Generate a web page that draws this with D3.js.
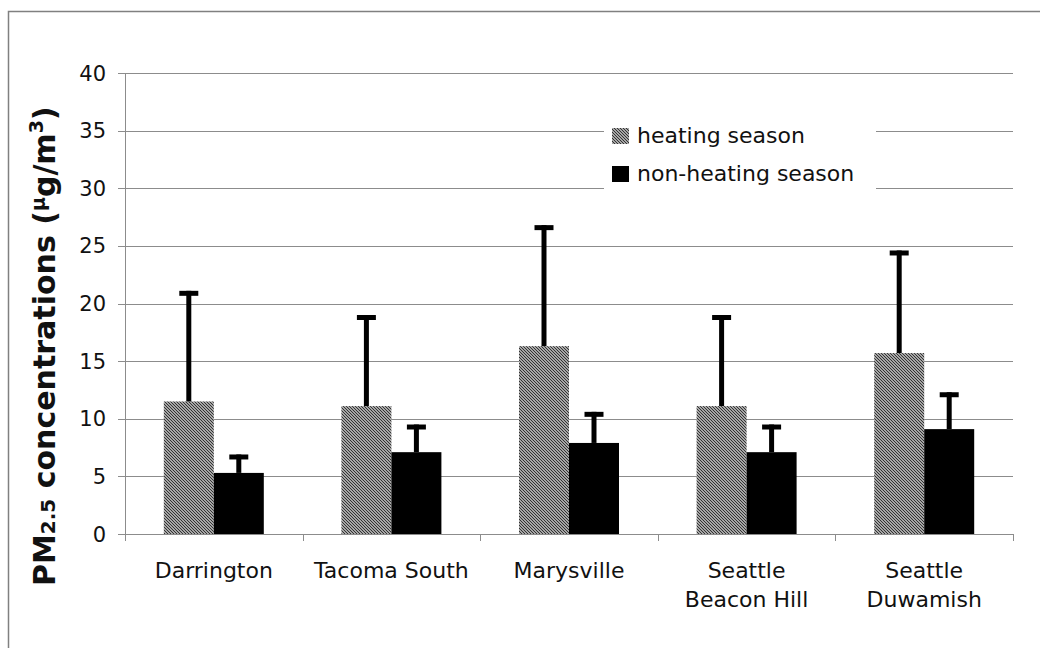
<!DOCTYPE html>
<html>
<head>
<meta charset="utf-8">
<script src="https://cdn.jsdelivr.net/npm/d3@7"></script>
<style>
  html, body { margin: 0; padding: 0; background: #fff; }
  svg { display: block; font-family: "DejaVu Sans", Verdana, sans-serif; }
</style>
</head>
<body>
<svg id="chart" width="1040" height="648"></svg>
<script>
// PM2.5 by monitoring site, heating vs non-heating season (mean with upward SD bar)
const sites = [["Darrington"], ["Tacoma South"], ["Marysville"], ["Seattle", "Beacon Hill"], ["Seattle", "Duwamish"]];
const seriesNames = ["heating season", "non-heating season"];
const heatingMean = [11.5, 11.1, 16.3, 11.1, 15.7];
const heatingUpper = [21.1, 19.0, 26.8, 19.0, 24.6];
const nonHeatingMean = [5.3, 7.1, 7.9, 7.1, 9.1];
const nonHeatingUpper = [6.9, 9.5, 10.6, 9.5, 12.3];
const yTicks = [0, 5, 10, 15, 20, 25, 30, 35, 40];

const svg = d3.select("#chart");
const margin = { left: 125, right: 1013, top: 73, bottom: 534 };
const gridColor = "#8c8c8c";

// outer frame
svg.append("rect")
  .attr("x", 8.5).attr("y", 11.5).attr("width", 1060).attr("height", 660)
  .attr("fill", "none").attr("stroke", "#808080").attr("stroke-width", 1.5);

// hatch fill for heating-season bars
const defs = svg.append("defs");
const pat = defs.append("pattern")
  .attr("id", "hatch").attr("patternUnits", "userSpaceOnUse")
  .attr("width", 3).attr("height", 3);
pat.append("rect").attr("width", 3).attr("height", 3).attr("fill", "#d8d8d8");
pat.append("path")
  .attr("d", "M0,0 L3,3 M-1,2 L1,4 M2,-1 L4,1")
  .attr("stroke", "#2a2a2a").attr("stroke-width", 1.1);

const idx = sites.map((d, i) => i);
const x = d3.scaleBand().domain(idx).range([margin.left, margin.right]).paddingInner(0).paddingOuter(0);
const y = d3.scaleLinear().domain([0, 40]).range([margin.bottom, margin.top]);
const barW = 50;

// horizontal gridlines
svg.append("g").selectAll("line").data(yTicks).join("line")
  .attr("x1", margin.left - 7).attr("x2", margin.right)
  .attr("y1", d => Math.round(y(d)) + 0.5).attr("y2", d => Math.round(y(d)) + 0.5)
  .attr("stroke", gridColor).attr("stroke-width", 1);

// left axis line
svg.append("line")
  .attr("x1", margin.left + 0.5).attr("x2", margin.left + 0.5)
  .attr("y1", margin.top).attr("y2", margin.bottom + 7)
  .attr("stroke", gridColor);

// category boundary ticks on the baseline
const bounds = idx.map(i => x(i)).concat([margin.right]);
svg.append("g").selectAll("line").data(bounds.slice(1)).join("line")
  .attr("x1", d => Math.round(d) + 0.5).attr("x2", d => Math.round(d) + 0.5)
  .attr("y1", margin.bottom).attr("y2", margin.bottom + 7)
  .attr("stroke", gridColor);

// y tick labels
svg.append("g").selectAll("text").data(yTicks).join("text")
  .attr("x", 106).attr("y", d => y(d))
  .attr("dy", "0.36em")
  .attr("text-anchor", "end")
  .attr("font-size", 21).attr("fill", "#111")
  .text(d => d);

// legend background
svg.append("rect").attr("x", 604).attr("y", 112).attr("width", 272).attr("height", 86).attr("fill", "#fff");

// bars
const center = i => x(i) + x.bandwidth() / 2;
const g = svg.append("g");
g.selectAll("rect.heat").data(heatingMean).join("rect")
  .attr("class", "heat")
  .attr("x", (d, i) => center(i) - barW).attr("width", barW)
  .attr("y", d => y(d)).attr("height", d => y(0) - y(d))
  .attr("fill", "url(#hatch)");
g.selectAll("rect.non").data(nonHeatingMean).join("rect")
  .attr("class", "non")
  .attr("x", (d, i) => center(i)).attr("width", barW)
  .attr("y", d => y(d)).attr("height", d => y(0) - y(d))
  .attr("fill", "#000");

// upward error bars
function errorBars(means, uppers, offset) {
  const eg = svg.append("g").attr("stroke", "#000");
  means.forEach((m, i) => {
    const cx = center(i) + offset;
    eg.append("line").attr("x1", cx).attr("x2", cx)
      .attr("y1", y(m)).attr("y2", y(uppers[i]))
      .attr("stroke-width", 5);
    eg.append("line").attr("x1", cx - 9.5).attr("x2", cx + 9.5)
      .attr("y1", y(uppers[i]) + 2.5).attr("y2", y(uppers[i]) + 2.5)
      .attr("stroke-width", 5);
  });
}
errorBars(heatingMean, heatingUpper, -barW / 2);
errorBars(nonHeatingMean, nonHeatingUpper, barW / 2);

// category labels
const lab = svg.append("g").attr("font-size", 22).attr("fill", "#111").attr("text-anchor", "middle");
sites.forEach((lines, i) => {
  const t = lab.append("text").attr("x", center(i)).attr("y", 578);
  lines.forEach((s, k) => {
    t.append("tspan").attr("x", center(i)).attr("dy", k === 0 ? 0 : 29).text(s);
  });
});

// legend
const legend = svg.append("g").attr("font-size", 22).attr("fill", "#111");
const fills = ["url(#hatch)", "#000"];
seriesNames.forEach((name, k) => {
  const yy = 128 + k * 38;
  legend.append("rect").attr("x", 612).attr("y", yy).attr("width", 17).attr("height", 16).attr("fill", fills[k]);
  legend.append("text").attr("x", 637).attr("y", yy + 15).text(name);
});

// y axis title
const title = svg.append("text")
  .attr("transform", "translate(55,586) rotate(-90)")
  .attr("font-size", 30).attr("font-weight", "bold").attr("fill", "#111");
title.append("tspan").text("PM");
title.append("tspan").attr("font-size", 20).text("2.5");
title.append("tspan").text(" concentrations (");
title.append("tspan").attr("font-size", 19).attr("dy", -10).text("µ");
title.append("tspan").attr("dy", 10).text("g/m");
title.append("tspan").attr("font-size", 19).attr("dy", -12).text("3");
title.append("tspan").attr("dy", 12).text(")");
</script>
</body>
</html>
